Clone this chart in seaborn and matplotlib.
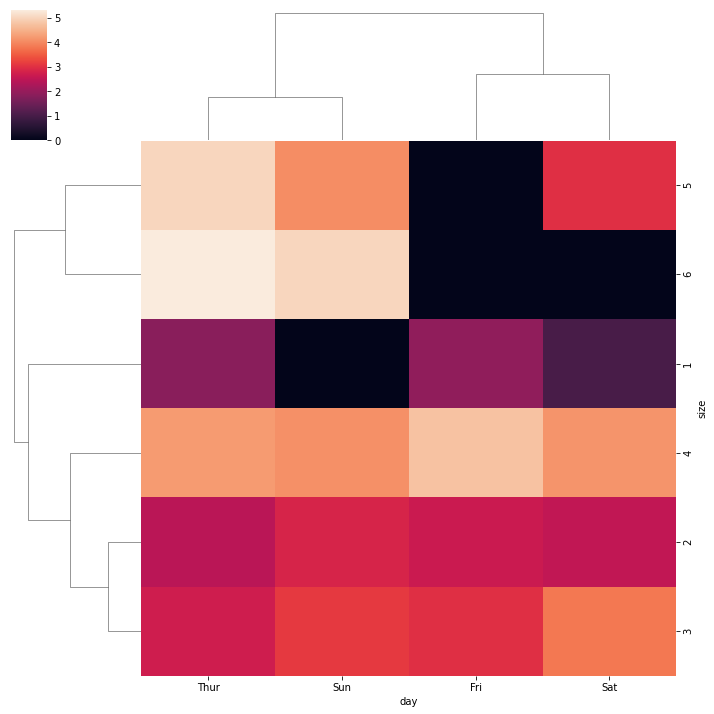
import numpy as np
import pandas as pd
import seaborn as sns
import matplotlib
matplotlib.use("Agg")
import matplotlib.pyplot as plt

days = ["Thur", "Fri", "Sat", "Sun"]
sizes = [1, 2, 3, 4, 5, 6]
thur = [1.83, 2.442, 2.6925, 4.218, 5.0, 5.3]
fri = [1.92, 2.644375, 3.0, 4.73, 0.0, 0.0]
sat = [1.0, 2.517547, 3.797778, 4.123846, 3.0, 0.0]
sun = [0.0, 2.816923, 3.120667, 4.087778, 4.046667, 5.0]

df = pd.DataFrame({"Thur": thur, "Fri": fri, "Sat": sat, "Sun": sun},
                  index=pd.Index(sizes, name="size"))
df.columns.name = "day"

g = sns.clustermap(df, figsize=(10, 10))
g.savefig("out.png", dpi=72.2, bbox_inches="tight")
